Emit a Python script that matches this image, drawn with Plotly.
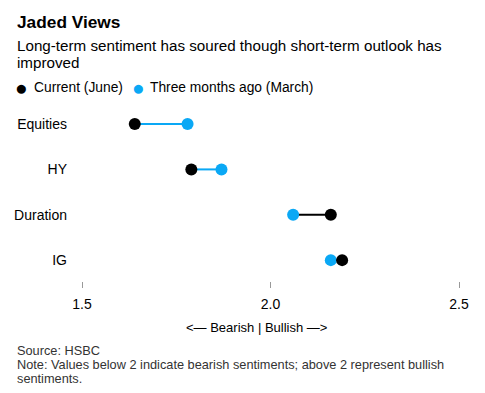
import plotly.graph_objects as go

categories = ["Equities", "HY", "Duration", "IG"]
current_june = [1.64, 1.79, 2.16, 2.19]
march = [1.78, 1.87, 2.06, 2.16]
x_ticks = [1.5, 2.0, 2.5]
x_tick_labels = ["1.5", "2.0", "2.5"]

BLACK = "#000000"
BLUE = "#0AA8F5"
FONT = "Liberation Sans, Arial, sans-serif"

W, H = 485, 393
L, R, T, B = 82, 26, 100, 112
PW, PH = W - L - R, H - T - B

def px(x):
    return (x - L) / PW

def py(y):
    return (H - B - y) / PH

fig = go.Figure()

# connecting lines
for cat, c, m in zip(categories, current_june, march):
    col = BLUE if m > c else BLACK
    fig.add_trace(go.Scatter(x=[c, m], y=[cat, cat], mode="lines",
                             line=dict(color=col, width=2), showlegend=False,
                             hoverinfo="skip"))

fig.add_trace(go.Scatter(x=march, y=categories, mode="markers", name="Three months ago (March)",
                         marker=dict(color=BLUE, size=12), showlegend=False))
fig.add_trace(go.Scatter(x=current_june, y=categories, mode="markers", name="Current (June)",
                         marker=dict(color=BLACK, size=12), showlegend=False))

fig.update_layout(
    width=W, height=H,
    margin=dict(l=L, r=R, t=T, b=B),
    paper_bgcolor="white", plot_bgcolor="white",
    font=dict(family=FONT, color="#000"),
    showlegend=False,
)
fig.update_xaxes(range=[1.5, 2.5], tickvals=x_ticks, ticktext=x_tick_labels,
                 showgrid=False, zeroline=False, showline=False,
                 ticks="outside", ticklen=6, tickwidth=1, tickcolor="#999",
                 tickfont=dict(size=14, family=FONT, color="#000"),
                 ticklabelstandoff=4)
fig.update_yaxes(categoryorder="array", categoryarray=categories[::-1],
                 range=[-0.46, 3.53], showgrid=False, zeroline=False, showline=False,
                 tickfont=dict(size=14, family=FONT, color="#000"),
                 ticklabelstandoff=14)

ann = [
    dict(text="<b>Jaded Views</b>", x=15, y=22, size=17.3, color="#000", anchor="left"),
    dict(text="Long-term sentiment has soured though short-term outlook has", x=15, y=45, size=15.2, color="#000", anchor="left"),
    dict(text="improved", x=15, y=63, size=15.2, color="#000", anchor="left"),
    dict(text="●", x=21.5, y=87, size=21, color=BLACK, anchor="center"),
    dict(text="Current (June)", x=32, y=87, size=13.8, color="#000", anchor="left"),
    dict(text="●", x=138, y=87, size=21, color=BLUE, anchor="center"),
    dict(text="Three months ago (March)", x=148, y=87, size=13.8, color="#000", anchor="left"),
    dict(text="<— Bearish | Bullish —>", x=256, y=327, size=13, color="#000", anchor="center"),
    dict(text="Source: HSBC", x=15, y=350, size=12.75, color="#333", anchor="left"),
    dict(text="Note: Values below 2 indicate bearish sentiments; above 2 represent bullish", x=15, y=364, size=12.75, color="#333", anchor="left"),
    dict(text="sentiments.", x=15, y=378, size=12.75, color="#333", anchor="left"),
]
for a in ann:
    fig.add_annotation(text=a["text"], xref="paper", yref="paper", x=px(a["x"]), y=py(a["y"]),
                       xanchor=a["anchor"], yanchor="middle", showarrow=False,
                       font=dict(size=a["size"], color=a["color"], family=FONT))

fig.write_html("out.html", config={"displayModeBar": False},
               post_script="document.body.style.margin='0';document.body.style.overflow='hidden';")
